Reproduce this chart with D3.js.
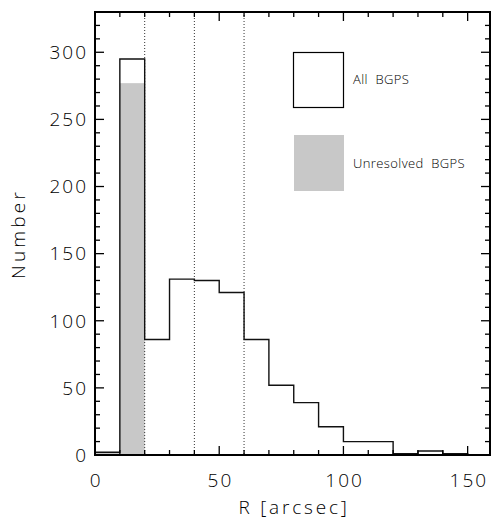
<!DOCTYPE html>
<html>
<head>
<meta charset="utf-8">
<script src="https://cdn.jsdelivr.net/npm/d3@7"></script>
<style>
  body { margin: 0; background: #fff; }
  text { font-family: "Open Sans", "Liberation Sans", Arial, sans-serif; font-weight: 300; fill: #000; }
</style>
</head>
<body>
<svg id="chart" width="491" height="521"></svg>
<script>
// histogram bins (lower edge, arcsec), width 10
const binStart = [0, 10, 20, 30, 40, 50, 60, 70, 80, 90, 100, 110, 120, 130, 140]
const allCounts = [2, 295, 86, 131, 130, 121, 86, 52, 39, 21, 10, 10, 1, 3, 1]
const unresolvedCounts = [2, 277, 0, 0, 0, 0, 0, 0, 0, 0, 0, 0, 0, 0, 0]
const binWidth = 10
const guideLines = [20, 40, 60]
const xTicks = [0, 50, 100, 150]
const yTicks = [0, 50, 100, 150, 200, 250, 300]
const legendLabels = ['All  BGPS', 'Unresolved  BGPS']

const svg = d3.select('#chart')
const plotL = 95, plotR = 490, plotT = 12, plotB = 455

const x = d3.scaleLinear().domain([0, 159]).range([plotL, plotR])
const y = d3.scaleLinear().domain([0, 330]).range([plotB, plotT])

// gray bars for unresolved sources
svg.append('g')
  .selectAll('rect')
  .data(binStart.map((b, i) => ({ b, v: unresolvedCounts[i] })).filter(d => d.v > 0))
  .join('rect')
  .attr('x', d => x(d.b))
  .attr('width', d => x(d.b + binWidth) - x(d.b))
  .attr('y', d => y(d.v))
  .attr('height', d => y(0) - y(d.v))
  .attr('fill', '#c8c8c8')

// dotted guides
svg.append('g')
  .selectAll('line')
  .data(guideLines)
  .join('line')
  .attr('x1', d => x(d)).attr('x2', d => x(d))
  .attr('y1', plotT).attr('y2', plotB)
  .attr('stroke', '#333')
  .attr('stroke-width', 1)
  .attr('stroke-dasharray', '1,2')

// step outline of all sources
const pts = []
binStart.forEach((b, i) => {
  pts.push([b, allCounts[i]])
  pts.push([b + binWidth, allCounts[i]])
})
pts.push([binStart[binStart.length - 1] + binWidth, 0])
const line = d3.line().x(d => x(d[0])).y(d => y(d[1]))
svg.append('path')
  .attr('d', line(pts))
  .attr('fill', 'none')
  .attr('stroke', '#111')
  .attr('stroke-width', 1.4)

// axes, ticks pointing inwards
const minorX = d3.range(0, 160, 10)
const minorY = d3.range(0, 331, 10)

function tickMarks (g, vals, fn) {
  g.selectAll(null).data(vals).join('line').each(fn)
    .attr('stroke', '#000').attr('stroke-width', 1.3)
}

const ticks = svg.append('g')
tickMarks(ticks.append('g'), minorX, function (d) {
  const len = xTicks.includes(d) ? 9 : 5
  d3.select(this).attr('x1', x(d)).attr('x2', x(d)).attr('y1', plotB).attr('y2', plotB - len)
})
tickMarks(ticks.append('g'), minorX, function (d) {
  const len = xTicks.includes(d) ? 9 : 5
  d3.select(this).attr('x1', x(d)).attr('x2', x(d)).attr('y1', plotT).attr('y2', plotT + len)
})
tickMarks(ticks.append('g'), minorY, function (d) {
  const len = yTicks.includes(d) ? 9 : 5
  d3.select(this).attr('y1', y(d)).attr('y2', y(d)).attr('x1', plotL).attr('x2', plotL + len)
})
tickMarks(ticks.append('g'), minorY, function (d) {
  const len = yTicks.includes(d) ? 9 : 5
  d3.select(this).attr('y1', y(d)).attr('y2', y(d)).attr('x1', plotR).attr('x2', plotR - len)
})

// frame
svg.append('rect')
  .attr('x', plotL).attr('y', plotT)
  .attr('width', plotR - plotL).attr('height', plotB - plotT)
  .attr('fill', 'none').attr('stroke', '#000').attr('stroke-width', 2)

// tick labels
svg.append('g')
  .selectAll('text')
  .data(xTicks)
  .join('text')
  .attr('x', d => x(d) + 1.2)
  .attr('y', 487)
  .attr('text-anchor', 'middle')
  .attr('font-size', 19)
  .attr('letter-spacing', 2)
  .text(d => d)

svg.append('g')
  .selectAll('text')
  .data(yTicks)
  .join('text')
  .attr('x', 88)
  .attr('y', d => y(d) + 6.8)
  .attr('text-anchor', 'end')
  .attr('font-size', 19)
  .attr('letter-spacing', 2)
  .text(d => d)

// axis titles
svg.append('text')
  .attr('x', (plotL + plotR) / 2 + 1.5)
  .attr('y', 514)
  .attr('text-anchor', 'middle')
  .attr('font-size', 19)
  .attr('letter-spacing', 2.8)
  .text('R [arcsec]')

svg.append('text')
  .attr('transform', 'translate(25,234) rotate(-90)')
  .attr('text-anchor', 'middle')
  .attr('font-size', 19)
  .attr('letter-spacing', 3.2)
  .text('Number')

// legend
const legend = svg.append('g')
legend.append('rect')
  .attr('x', 293.5).attr('y', 52.5).attr('width', 50).attr('height', 55)
  .attr('fill', '#fff').attr('stroke', '#000').attr('stroke-width', 1.2)
legend.append('rect')
  .attr('x', 294).attr('y', 135).attr('width', 50).attr('height', 56)
  .attr('fill', '#c8c8c8')
legend.selectAll('text')
  .data(legendLabels)
  .join('text')
  .attr('x', 353)
  .attr('y', (d, i) => i === 0 ? 84 : 167.5)
  .attr('font-size', 13)
  .attr('letter-spacing', 0.4)
  .style('white-space', 'pre')
  .text(d => d)
</script>
</body>
</html>
